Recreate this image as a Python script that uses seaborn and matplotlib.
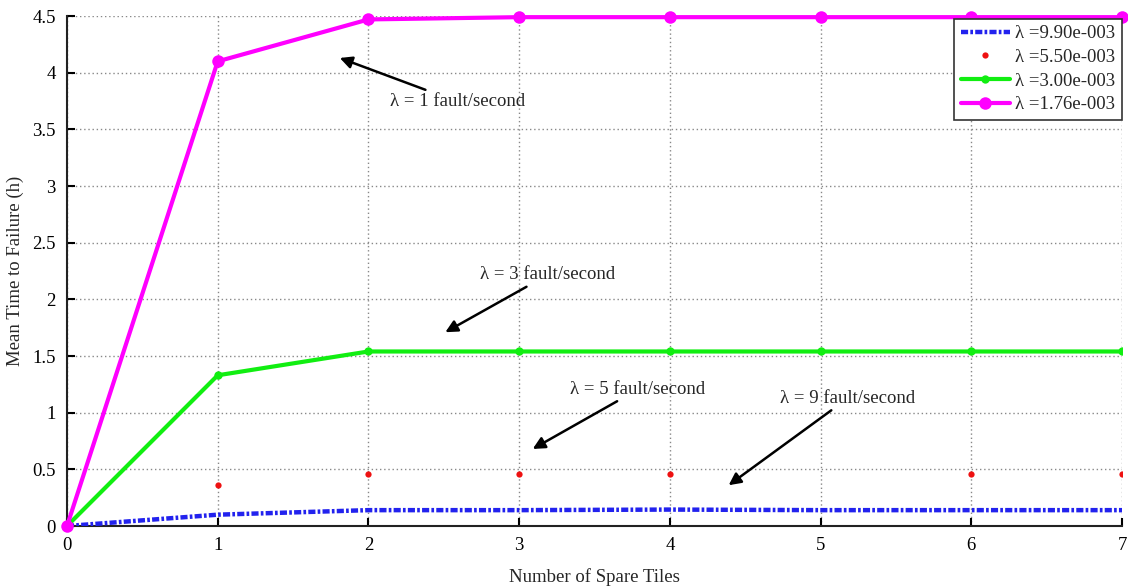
import matplotlib
matplotlib.use("Agg")
import matplotlib.pyplot as plt
import seaborn as sns
import pandas as pd

# ---- data ----
spare_tiles = [0, 1, 2, 3, 4, 5, 6, 7]
mttf_l990 = [0.0, 0.10, 0.14, 0.14, 0.145, 0.14, 0.14, 0.14]
spare_tiles_red = [0, 1, 2, 3, 4, 6, 7]
mttf_l550 = [0.0, 0.36, 0.46, 0.46, 0.46, 0.46, 0.46]
mttf_l300 = [0.0, 1.33, 1.54, 1.54, 1.54, 1.54, 1.54, 1.54]
mttf_l176 = [0.0, 4.10, 4.47, 4.49, 4.49, 4.49, 4.49, 4.49]

labels = ["λ =9.90e-003", "λ =5.50e-003", "λ =3.00e-003", "λ =1.76e-003"]
x_ticks = [0, 1, 2, 3, 4, 5, 6, 7]
y_ticks = [0, 0.5, 1, 1.5, 2, 2.5, 3, 3.5, 4, 4.5]

annotations = [
    ("λ = 1 fault/second", (1.81, 4.13), (2.14, 3.67)),
    ("λ = 3 fault/second", (2.51, 1.71), (2.74, 2.14)),
    ("λ = 5 fault/second", (3.09, 0.68), (3.34, 1.13)),
    ("λ = 9 fault/second", (4.39, 0.36), (4.73, 1.05)),
]

sns.set_style("ticks")
plt.rcParams['font.family'] = ['Liberation Serif', 'DejaVu Serif']

FS = 13.5

fig = plt.figure(figsize=(11.28, 5.87), dpi=100)
ax = fig.add_axes([0.0594, 0.1039, 0.9353, 0.8688])

df_blue = pd.DataFrame({"x": spare_tiles, "y": mttf_l990})
df_red = pd.DataFrame({"x": spare_tiles_red, "y": mttf_l550})
df_green = pd.DataFrame({"x": spare_tiles, "y": mttf_l300})
df_mag = pd.DataFrame({"x": spare_tiles, "y": mttf_l176})

sns.lineplot(data=df_blue, x="x", y="y", ax=ax, color="#2222ee", lw=3.2,
             linestyle=(0, (1.6, 0.5, 0.6, 0.5)), label=labels[0], zorder=3)
sns.lineplot(data=df_red, x="x", y="y", ax=ax, color="#ee1111", lw=0,
             marker="o", markersize=4.5, markeredgewidth=0, label=labels[1],
             zorder=4)
sns.lineplot(data=df_green, x="x", y="y", ax=ax, color="#11ee11", lw=3,
             marker="o", markersize=6, markeredgewidth=0, label=labels[2],
             zorder=4)
sns.lineplot(data=df_mag, x="x", y="y", ax=ax, color="#ff00ff", lw=3,
             marker="o", markersize=9, markeredgewidth=0, label=labels[3],
             zorder=5, clip_on=False)

ax.set_xlim(0, 7)
ax.set_ylim(0, 4.5)
ax.set_xticks(x_ticks)
ax.set_yticks(y_ticks)
ax.set_yticklabels([f"{v:g}" for v in y_ticks])
ax.tick_params(direction="in", length=6, width=1.5, labelsize=FS, pad=8,
               colors="black")
ax.grid(True, linestyle=(0, (1, 2)), color="#888888", lw=1)
for side in ["top", "right"]:
    ax.spines[side].set_visible(False)
for side in ["left", "bottom"]:
    ax.spines[side].set_linewidth(1.5)
    ax.spines[side].set_color("#222222")

ax.set_xlabel("Number of Spare Tiles", fontsize=FS, labelpad=10)
ax.set_ylabel("Mean Time to Failure (h)", fontsize=FS, labelpad=6)

for text, head, tail in annotations:
    ax.annotate(text, xy=head, xytext=tail, fontsize=FS,
                ha="left", va="bottom",
                arrowprops=dict(arrowstyle="-|>", color="black", lw=1.8,
                                mutation_scale=18, shrinkA=0, shrinkB=0))

leg = ax.legend(loc="upper right", bbox_to_anchor=(1.0, 0.995), fontsize=FS,
                frameon=True, fancybox=False, framealpha=1, edgecolor="#333333",
                handlelength=2.6, borderaxespad=0.0, labelspacing=0.35,
                handletextpad=0.3, borderpad=0.35)
leg.get_frame().set_linewidth(1.2)
leg.set_zorder(10)

fig.savefig("out.png", dpi=100)
